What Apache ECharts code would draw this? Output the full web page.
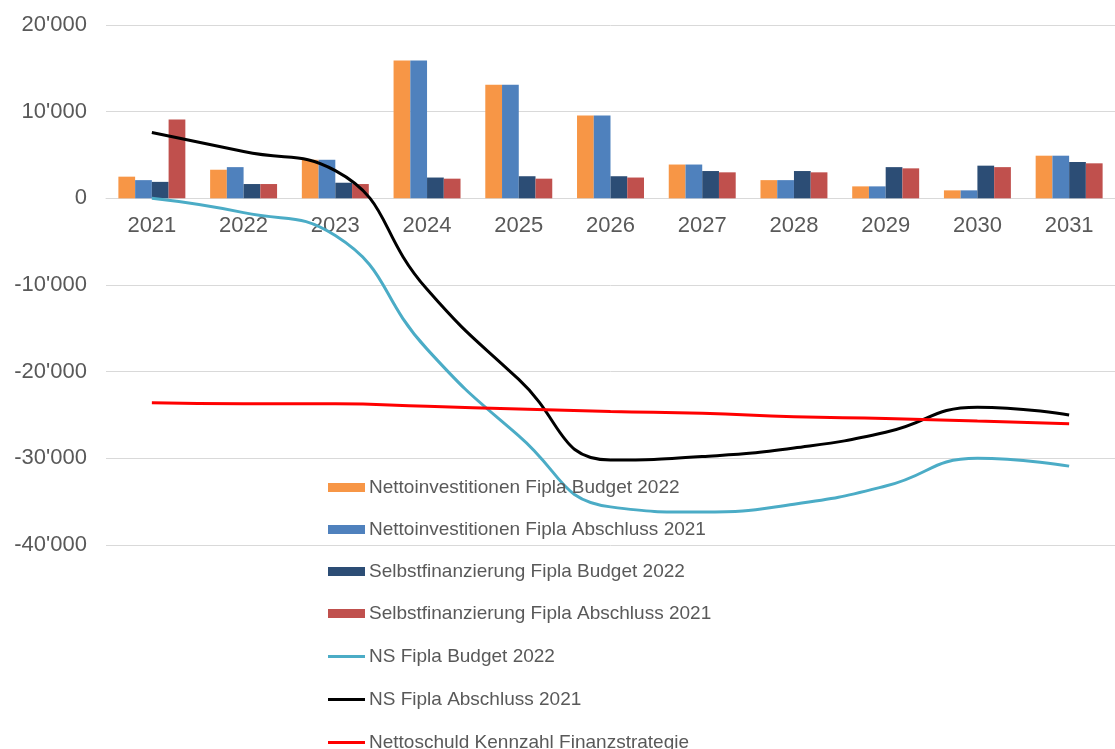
<!DOCTYPE html>
<html>
<head>
<meta charset="utf-8">
<title>Nettoinvestitionen / Selbstfinanzierung / Nettoschuld</title>
<script src="https://cdn.jsdelivr.net/npm/echarts@6/dist/echarts.min.js"></script>
<style>
  html, body { margin: 0; padding: 0; background: #fff; }
  #chart { width: 1115px; height: 749px; }
</style>
</head>
<body>
<div id="chart"></div>
<script>
// Daten (in Tausend)
var years = ["2021", "2022", "2023", "2024", "2025", "2026", "2027", "2028", "2029", "2030", "2031"];
var nettoInvBudget22 = [2500, 3300, 4450, 15900, 13100, 9550, 3900, 2100, 1380, 920, 4920];
var nettoInvAbschl21 = [2100, 3600, 4450, 15900, 13100, 9550, 3900, 2100, 1380, 920, 4920];
var selbstFinBudget22 = [1900, 1650, 1800, 2400, 2550, 2550, 3150, 3150, 3600, 3770, 4190];
var selbstFinAbschl21 = [9100, 1650, 1650, 2270, 2270, 2400, 3000, 3000, 3460, 3600, 4040];
var nsBudget22 = [0, -1650, -4300, -17400, -27400, -35600, -36200, -35300, -33200, -30000, -30900];
var nsAbschl21 = [7600, 5400, 3200, -10500, -20900, -30200, -29800, -28800, -27000, -24100, -25000];
var nettoschuldKennzahl = [-23600, -23700, -23700, -24000, -24300, -24600, -24800, -25200, -25400, -25700, -26000];
var yTicks = { min: -40000, max: 20000, interval: 10000 };

var textColor = "#595959";
var fontFam = "'Liberation Sans', Arial, sans-serif";

// Plotbereich
var gridTop = 25, gridHeight = 520;
// x-Achse auf Höhe der Null legen
var zeroOffset = -Math.round(gridHeight * (0 - yTicks.min) / (yTicks.max - yTicks.min));

function fmt(v) {
  // Tausendertrennzeichen als Apostroph
  var s = String(Math.abs(v)).replace(/\B(?=(\d{3})+(?!\d))/g, "'");
  return (v < 0 ? "-" : "") + s;
}

function barSeries(name, data, color) {
  return {
    name: name,
    type: "bar",
    data: data,
    barGap: "0%",
    barCategoryGap: "27%",
    itemStyle: { color: color }
  };
}

function lineSeries(name, data, color) {
  return {
    name: name,
    type: "line",
    data: data,
    smooth: 0.5,
    smoothConstraint: false,   // Überschwingen wie in Excel zulassen
    showSymbol: false,
    symbol: "none",
    lineStyle: { color: color, width: 3 },
    itemStyle: { color: color },
    z: 3
  };
}

function legendBox(top, itemHeight, gap, names) {
  return {
    orient: "vertical",
    left: 323,
    top: top,
    height: 200,
    icon: "rect",
    itemWidth: 37,
    itemHeight: itemHeight,
    itemGap: gap,
    textStyle: { fontSize: 19, color: textColor, fontFamily: fontFam, padding: [0, 0, 0, -1] },
    data: names
  };
}

var chart = echarts.init(document.getElementById("chart"));

var option = {
  animation: false,
  textStyle: { fontFamily: fontFam },
  grid: { left: 106, top: gridTop, width: 1021, height: gridHeight },
  legend: [
    legendBox(473, 9, 23, ["Nettoinvestitionen Fipla Budget 2022", "Nettoinvestitionen Fipla Abschluss 2021",
                           "Selbstfinanzierung Fipla Budget 2022", "Selbstfinanzierung Fipla Abschluss 2021"]),
    legendBox(642, 3, 24, ["NS Fipla Budget 2022", "NS Fipla Abschluss 2021", "Nettoschuld Kennzahl Finanzstrategie"])
  ],
  xAxis: {
    type: "category",
    data: years,
    offset: zeroOffset,
    axisLine: { onZero: false, lineStyle: { color: "#d9d9d9", width: 1 } },
    axisTick: { show: false },
    axisLabel: { fontSize: 22, color: textColor, margin: 17, fontFamily: fontFam }
  },
  yAxis: {
    type: "value",
    min: yTicks.min,
    max: yTicks.max,
    interval: yTicks.interval,
    axisLine: { show: false },
    axisTick: { show: false },
    splitLine: { lineStyle: { color: "#d9d9d9", width: 1 } },
    axisLabel: { fontSize: 22, color: textColor, margin: 19, fontFamily: fontFam, formatter: fmt }
  },
  series: [
    barSeries("Nettoinvestitionen Fipla Budget 2022", nettoInvBudget22, "#F79646"),
    barSeries("Nettoinvestitionen Fipla Abschluss 2021", nettoInvAbschl21, "#4F81BD"),
    barSeries("Selbstfinanzierung Fipla Budget 2022", selbstFinBudget22, "#2C4D75"),
    barSeries("Selbstfinanzierung Fipla Abschluss 2021", selbstFinAbschl21, "#C0504D"),
    lineSeries("NS Fipla Budget 2022", nsBudget22, "#4BACC6"),
    lineSeries("NS Fipla Abschluss 2021", nsAbschl21, "#000000"),
    lineSeries("Nettoschuld Kennzahl Finanzstrategie", nettoschuldKennzahl, "#FF0000")
  ]
};

chart.setOption(option);
</script>
</body>
</html>
